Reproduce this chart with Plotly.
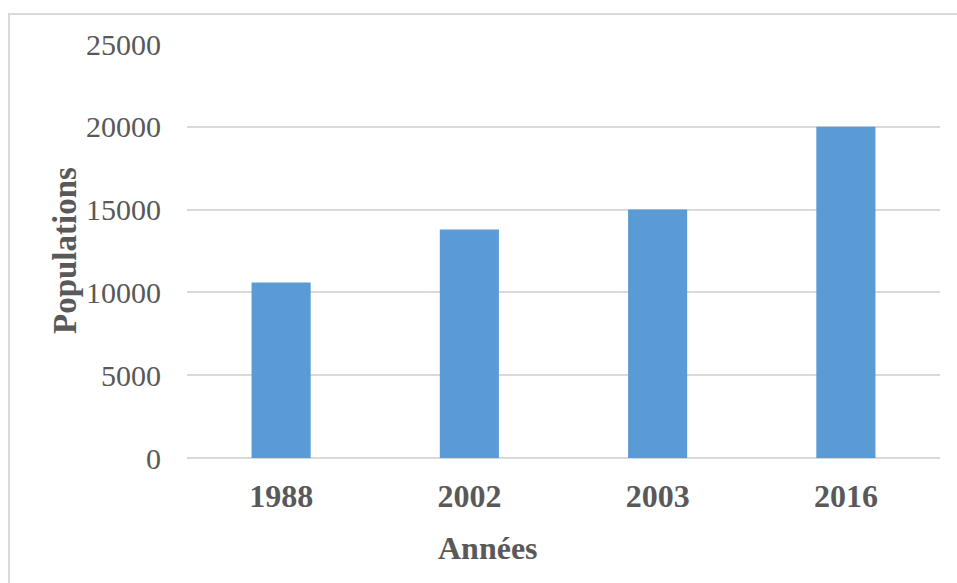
import plotly.graph_objects as go

years = ["1988", "2002", "2003", "2016"]
populations = [10600, 13800, 15000, 20000]

W, H = 957, 583
L, R, T, B = 187, 17, 44, 125
pw = W - L - R
ph = H - T - B

def px_x(p):
    return (p - L) / pw

def px_y(p):
    return (H - B - p) / ph

fig = go.Figure(go.Bar(x=years, y=populations, marker_color="#5b9bd5", marker_line_width=0))

fig.update_layout(
    width=W, height=H,
    margin=dict(l=L, r=R, t=T, b=B),
    paper_bgcolor="white", plot_bgcolor="white",
    bargap=0.686,
    font=dict(family="Liberation Serif, Times New Roman, serif", color="#595959"),
    showlegend=False,
    xaxis=dict(
        type="category",
        tickfont=dict(size=32, family="Liberation Serif", color="#595959", weight="bold"),
        ticklabelstandoff=16,
        showgrid=False, showline=False, zeroline=False,
    ),
    yaxis=dict(
        range=[0, 25000], dtick=5000, tick0=0, tickformat="d",
        tickfont=dict(size=30, color="#595959"),
        ticklabelstandoff=25,
        showgrid=True, gridcolor="#d9d9d9", gridwidth=1.5,
        zeroline=True, zerolinecolor="#d9d9d9", zerolinewidth=1.5,
        showline=False,
    ),
    annotations=[
        dict(text="<b>Années</b>", xref="paper", yref="paper",
             x=px_x(488), y=px_y(548), xanchor="center", yanchor="middle",
             showarrow=False, font=dict(size=32, color="#595959")),
        dict(text="<b>Populations</b>", xref="paper", yref="paper",
             x=px_x(65), y=px_y(251), xanchor="center", yanchor="middle",
             textangle=-90, showarrow=False, font=dict(size=33, color="#595959")),
    ],
    shapes=[dict(
        type="rect", xref="paper", yref="paper",
        x0=px_x(9), x1=px_x(W + 20), y0=px_y(H + 20), y1=px_y(14),
        line=dict(color="#d9d9d9", width=2), fillcolor="rgba(0,0,0,0)", layer="below",
    )],
)

fig.write_html("out.html")
